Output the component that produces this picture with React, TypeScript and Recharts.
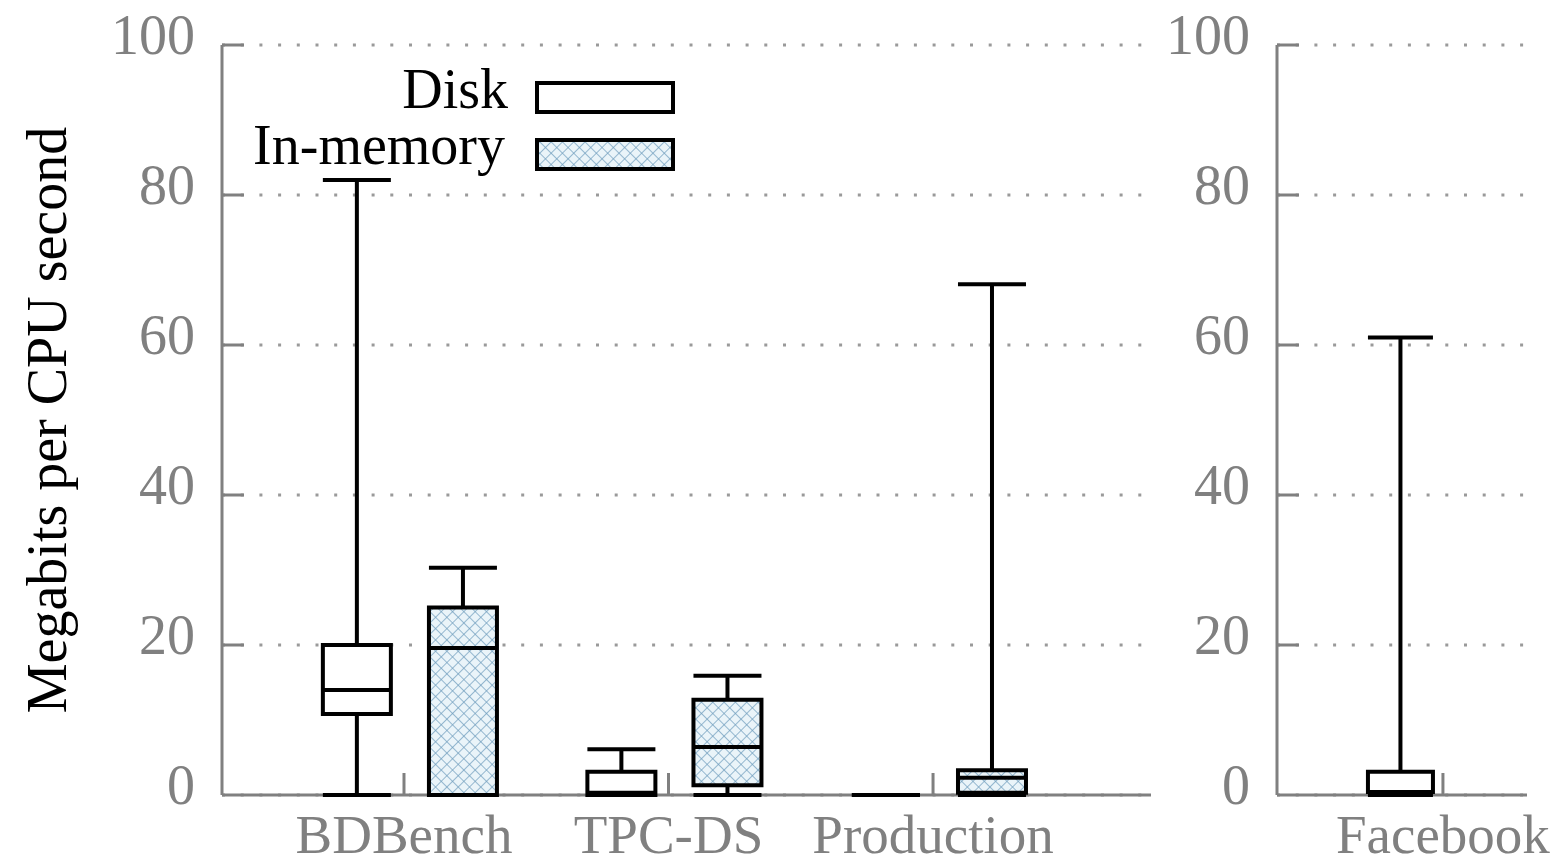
import React from 'react';
import { ComposedChart, Bar, XAxis, YAxis, CartesianGrid, Legend } from 'recharts';

const categories = ['BDBench', 'TPC-DS', 'Production'];
const sideCategories = ['Facebook'];
const seriesNames = ['Disk', 'In-memory'];

// [min, q1, median, q3, max] per category
const diskStats = [
  [0, 10.8, 14, 20, 82],
  [0, 0, 0.3, 3.1, 6.1],
  [0, 0, 0, 0, 0],
];
const memoryStats = [
  [0, 0, 19.6, 25, 30.3],
  [0, 1.3, 6.4, 12.7, 15.9],
  [0, 0.3, 2.3, 3.3, 68.1],
];
const facebookStats = [[0, 0.4, 0.4, 3.1, 61]];

const yTicks = [0, 20, 40, 60, 80, 100];

const FONT = "'Liberation Serif', 'Times New Roman', serif";
const GRAY = '#808080';
const DISK_OFFSET = -0.178;
const MEM_OFFSET = 0.223;

type Row = { x: number; kind: 'disk' | 'memory'; min: number; q1: number; med: number; q3: number; max: number };

const toRow = (s: number[], x: number, kind: 'disk' | 'memory'): Row => ({
  x, kind, min: s[0], q1: s[1], med: s[2], q3: s[3], max: s[4],
});

const leftRows: Row[] = [
  ...diskStats.map((s, i) => toRow(s, i + DISK_OFFSET, 'disk')),
  ...memoryStats.map((s, i) => toRow(s, i + MEM_OFFSET, 'memory')),
];
const rightRows: Row[] = facebookStats.map((s, i) => toRow(s, i + DISK_OFFSET, 'disk'));

const Hatch = ({ id }: { id: string }) => (
  <defs>
    <pattern id={id} width={8} height={8} patternUnits="userSpaceOnUse" patternTransform="rotate(45)">
      <rect width={8} height={8} fill="#eaf4f9" />
      <line x1={0} y1={0} x2={0} y2={8} stroke="#6f9dbd" strokeWidth={1.4} />
      <line x1={0} y1={0} x2={8} y2={0} stroke="#6f9dbd" strokeWidth={1.4} />
    </pattern>
  </defs>
);

const BoxShape = (props: any) => {
  const { x, y, width, height, payload } = props;
  const top = Math.min(y, y + height);
  const bottom = Math.max(y, y + height);
  const span = payload.max - payload.min;
  const py = (v: number) => (span === 0 ? bottom : bottom - ((bottom - top) * (v - payload.min)) / span);
  const cx = x + width / 2;
  const fill = payload.kind === 'memory' ? 'url(#hatch)' : '#fff';
  const k = { stroke: '#000', strokeWidth: 4 };
  return (
    <g>
      <line x1={cx} x2={cx} y1={py(payload.max)} y2={py(payload.q3)} {...k} />
      <line x1={cx} x2={cx} y1={py(payload.q1)} y2={py(payload.min)} {...k} />
      <line x1={x} x2={x + width} y1={py(payload.max)} y2={py(payload.max)} {...k} />
      <line x1={x} x2={x + width} y1={py(payload.min)} y2={py(payload.min)} {...k} />
      <rect x={x} y={py(payload.q3)} width={width} height={py(payload.q1) - py(payload.q3)} fill={fill} {...k} />
      <line x1={x} x2={x + width} y1={py(payload.med)} y2={py(payload.med)} {...k} />
    </g>
  );
};

const YTick = (props: any) => {
  const { x, y, payload } = props;
  const axisX = x + 27;
  return (
    <g>
      {payload.value !== 0 && (
        <line x1={axisX} x2={axisX + 22} y1={y} y2={y} stroke={GRAY} strokeWidth={3} />
      )}
      <text x={x} y={y + 9} textAnchor="end" fill={GRAY} fontFamily={FONT} fontSize={56}>
        {payload.value}
      </text>
    </g>
  );
};

const makeXTick = (names: string[]) => (props: any) => {
  const { x, y, payload } = props;
  const axisY = y - 10;
  return (
    <g>
      <line x1={x} x2={x} y1={axisY} y2={axisY - 22} stroke={GRAY} strokeWidth={3} />
      <text x={x} y={axisY + 58} textAnchor="middle" fill={GRAY} fontFamily={FONT} fontSize={55}>
        {names[payload.value]}
      </text>
    </g>
  );
};

const LegendContent = () => (
  <svg width={460} height={140}>
    <Hatch id="hatch-legend" />
    {seriesNames.map((name, i) => (
      <g key={name}>
        <text x={268 - i * 3} y={63 + i * 56} textAnchor="end" fill="#000" fontFamily={FONT} fontSize={56}>
          {name}
        </text>
        <rect
          x={297}
          y={38 + i * 57}
          width={136}
          height={29}
          fill={i === 0 ? '#fff' : 'url(#hatch-legend)'}
          stroke="#000"
          strokeWidth={4}
        />
      </g>
    ))}
  </svg>
);

const YLabel = (props: any) => {
  const { viewBox } = props;
  const cx = viewBox.x + 47;
  const cy = viewBox.y + viewBox.height / 2;
  return (
    <text
      x={cx}
      y={cy}
      transform={`rotate(-90, ${cx}, ${cy})`}
      textAnchor="middle"
      dominantBaseline="central"
      fill="#000"
      fontFamily={FONT}
      fontSize={56}
    >
      Megabits per CPU second
    </text>
  );
};

export default function App() {
  return (
    <div style={{ position: 'absolute', left: 0, top: 0, width: 1560, height: 866, background: '#fff' }}>
      <div style={{ position: 'absolute', left: 0, top: 0 }}>
        <ComposedChart width={1160} height={866} data={leftRows} margin={{ top: 45, right: 9, bottom: 0, left: 0 }}>
          <Hatch id="hatch" />
          <CartesianGrid horizontal vertical={false} stroke="#9a9a9a" strokeWidth={3} strokeDasharray="3 15.7" />
          <XAxis
            dataKey="x"
            type="number"
            domain={[-0.688, 2.824]}
            allowDataOverflow
            ticks={[0, 1, 2]}
            height={71}
            tickSize={0}
            tickMargin={10}
            tickLine={false}
            axisLine={{ stroke: GRAY, strokeWidth: 3 }}
            tick={makeXTick(categories)}
          />
          <YAxis
            type="number"
            domain={[0, 100]}
            ticks={yTicks}
            interval={0}
            width={222}
            tickSize={0}
            tickMargin={27}
            tickLine={false}
            axisLine={{ stroke: GRAY, strokeWidth: 3 }}
            tick={<YTick />}
            label={<YLabel />}
          />
          <Bar
            dataKey={(d: Row) => [d.min, d.max]}
            barSize={68}
            shape={<BoxShape />}
            isAnimationActive={false}
            zIndex={1000}
          />
          <Legend
            layout="vertical"
            align="center"
            verticalAlign="middle"
            wrapperStyle={{ left: 240, top: 45, width: 460, height: 140 }}
            content={<LegendContent />}
          />
        </ComposedChart>
      </div>
      <div style={{ position: 'absolute', left: 1160, top: 0 }}>
        <ComposedChart width={400} height={866} data={rightRows} margin={{ top: 45, right: 33, bottom: 0, left: 0 }}>
          <CartesianGrid horizontal vertical={false} stroke="#9a9a9a" strokeWidth={3} strokeDasharray="3 15.7" />
          <XAxis
            dataKey="x"
            type="number"
            domain={[-0.687, 0.348]}
            allowDataOverflow
            ticks={[0]}
            height={71}
            tickSize={0}
            tickMargin={10}
            tickLine={false}
            axisLine={{ stroke: GRAY, strokeWidth: 3 }}
            tick={makeXTick(sideCategories)}
          />
          <YAxis
            type="number"
            domain={[0, 100]}
            ticks={yTicks}
            interval={0}
            width={117}
            tickSize={0}
            tickMargin={27}
            tickLine={false}
            axisLine={{ stroke: GRAY, strokeWidth: 3 }}
            tick={<YTick />}
          />
          <Bar
            dataKey={(d: Row) => [d.min, d.max]}
            barSize={65}
            shape={<BoxShape />}
            isAnimationActive={false}
            zIndex={1000}
          />
        </ComposedChart>
      </div>
    </div>
  );
}
